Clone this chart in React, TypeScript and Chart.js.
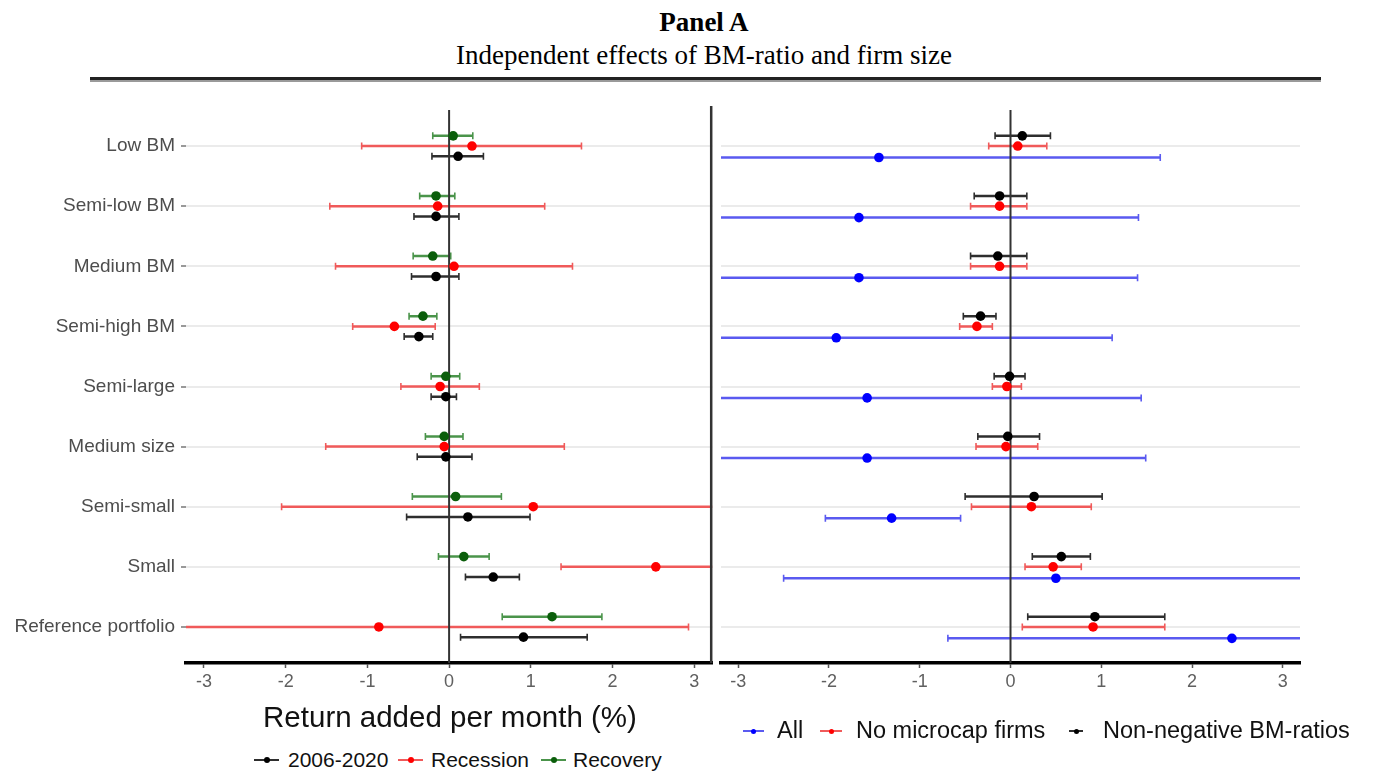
import React, { useEffect, useRef } from 'react';
import { Chart, registerables } from 'chart.js';

Chart.register(...registerables);

// ---------- data ----------
const categories = [
  'Low BM',
  'Semi-low BM',
  'Medium BM',
  'Semi-high BM',
  'Semi-large',
  'Medium size',
  'Semi-small',
  'Small',
  'Reference portfolio',
];
const xTickValues = [-3, -2, -1, 0, 1, 2, 3];

// Left panel: periods
const est2006 = [0.11, -0.16, -0.16, -0.37, -0.04, -0.04, 0.23, 0.54, 0.91];
const lo2006 = [-0.21, -0.43, -0.46, -0.55, -0.22, -0.39, -0.52, 0.2, 0.14];
const hi2006 = [0.42, 0.12, 0.12, -0.2, 0.09, 0.28, 0.99, 0.86, 1.69];

const estRecession = [0.28, -0.14, 0.06, -0.67, -0.11, -0.06, 1.03, 2.53, -0.86];
const loRecession = [-1.07, -1.46, -1.39, -1.18, -0.59, -1.51, -2.05, 1.37, -4.65];
const hiRecession = [1.62, 1.17, 1.51, -0.17, 0.37, 1.41, 4.11, 3.69, 2.93];

const estRecovery = [0.05, -0.16, -0.2, -0.32, -0.04, -0.06, 0.08, 0.18, 1.26];
const loRecovery = [-0.2, -0.36, -0.44, -0.49, -0.22, -0.29, -0.45, -0.13, 0.65];
const hiRecovery = [0.29, 0.07, 0.02, -0.15, 0.13, 0.17, 0.64, 0.49, 1.87];

// Right panel: samples
const estAll = [-1.45, -1.67, -1.67, -1.92, -1.58, -1.58, -1.31, 0.5, 2.44];
const loAll = [-4.55, -4.75, -4.74, -4.96, -4.6, -4.65, -2.04, -2.5, -0.69];
const hiAll = [1.65, 1.41, 1.4, 1.12, 1.44, 1.49, -0.55, 3.5, 5.57];

const estNoMicro = [0.08, -0.12, -0.12, -0.37, -0.04, -0.05, 0.23, 0.47, 0.91];
const loNoMicro = [-0.24, -0.44, -0.44, -0.56, -0.2, -0.38, -0.43, 0.16, 0.13];
const hiNoMicro = [0.4, 0.18, 0.18, -0.2, 0.12, 0.3, 0.89, 0.78, 1.7];

const estNonNeg = [0.13, -0.12, -0.14, -0.33, -0.01, -0.03, 0.26, 0.56, 0.93];
const loNonNeg = [-0.17, -0.4, -0.44, -0.52, -0.18, -0.36, -0.5, 0.24, 0.19];
const hiNonNeg = [0.44, 0.18, 0.18, -0.16, 0.16, 0.32, 1.01, 0.88, 1.7];

// ---------- series config ----------
const leftSeries = [
  { label: '2006-2020', est: est2006, lo: lo2006, hi: hi2006, point: '#000000', line: '#2e2e2e', dodge: 0.17 },
  { label: 'Recession', est: estRecession, lo: loRecession, hi: hiRecession, point: '#ff0000', line: '#f05a5a', dodge: 0 },
  { label: 'Recovery', est: estRecovery, lo: loRecovery, hi: hiRecovery, point: '#0b5e0b', line: '#4a944a', dodge: -0.17 },
];
const rightSeries = [
  { label: 'All', est: estAll, lo: loAll, hi: hiAll, point: '#0000ff', line: '#5a5af0', dodge: 0.19 },
  { label: 'No microcap firms', est: estNoMicro, lo: loNoMicro, hi: hiNoMicro, point: '#ff0000', line: '#f05a5a', dodge: 0 },
  { label: 'Non-negative BM-ratios', est: estNonNeg, lo: loNonNeg, hi: hiNonNeg, point: '#000000', line: '#2e2e2e', dodge: -0.17 },
];

const FONT = "'Liberation Sans', Arial, sans-serif";
const SERIF = "'Liberation Serif', 'Times New Roman', serif";

const errorBarPlugin = {
  id: 'errorBars',
  beforeDatasetsDraw(chart: any) {
    const { ctx, chartArea: a, scales } = chart;
    const xs = scales.x;
    const ys = scales.y;
    ctx.save();
    ctx.beginPath();
    ctx.rect(a.left, a.top, a.right - a.left, a.bottom - a.top);
    ctx.clip();
    chart.data.datasets.forEach((ds: any) => {
      ctx.strokeStyle = ds.errColor;
      ds.data.forEach((p: any, i: number) => {
        const y = ys.getPixelForValue(p.y);
        const x1 = xs.getPixelForValue(ds.errLo[i]);
        const x2 = xs.getPixelForValue(ds.errHi[i]);
        ctx.lineWidth = 2.5;
        ctx.beginPath();
        ctx.moveTo(x1, y);
        ctx.lineTo(x2, y);
        ctx.stroke();
        ctx.lineWidth = 1.6;
        ctx.beginPath();
        ctx.moveTo(x1, y - 3.5);
        ctx.lineTo(x1, y + 3.5);
        ctx.moveTo(x2, y - 3.5);
        ctx.lineTo(x2, y + 3.5);
        ctx.stroke();
      });
    });
    const x0 = xs.getPixelForValue(0);
    ctx.strokeStyle = '#333333';
    ctx.lineWidth = 2;
    ctx.beginPath();
    ctx.moveTo(x0, a.top);
    ctx.lineTo(x0, a.bottom);
    ctx.stroke();
    ctx.restore();
  },
};

const dividerPlugin = {
  id: 'divider',
  afterDraw(chart: any) {
    const { ctx, chartArea: a } = chart;
    ctx.save();
    ctx.strokeStyle = '#333333';
    ctx.lineWidth = 2.5;
    ctx.beginPath();
    ctx.moveTo(a.right - 1, a.top - 4);
    ctx.lineTo(a.right - 1, a.bottom);
    ctx.stroke();
    ctx.restore();
  },
};

function buildDatasets(series: any[]) {
  return series.map((s) => ({
    type: 'scatter',
    label: s.label,
    data: s.est.map((v: number, i: number) => ({ x: v, y: i + 1 + s.dodge })),
    errLo: s.lo,
    errHi: s.hi,
    errColor: s.line,
    backgroundColor: s.point,
    borderColor: s.point,
    borderWidth: 0,
    pointRadius: 4.8,
    pointHoverRadius: 4.8,
  }));
}

function makeOptions(opts: { xMin: number; xMax: number; showY: boolean; yWidth: number; padding: any }) {
  return {
    responsive: false,
    animation: false,
    events: [],
    layout: { padding: opts.padding },
    plugins: { legend: { display: false }, tooltip: { enabled: false }, title: { display: false } },
    scales: {
      x: {
        type: 'linear',
        min: opts.xMin,
        max: opts.xMax,
        afterBuildTicks: (s: any) => {
          s.ticks = xTickValues.map((v) => ({ value: v }));
        },
        afterFit: (s: any) => {
          s.height = 31;
        },
        ticks: {
          color: '#606060',
          font: { size: 18, family: FONT },
          padding: 3,
          maxRotation: 0,
          autoSkip: false,
          callback: (v: any) => String(v),
        },
        grid: { display: true, drawOnChartArea: false, drawTicks: true, tickLength: 5, tickColor: '#555555', tickWidth: 1.5 },
        border: { display: true, color: '#000000', width: 3.5 },
      },
      y: {
        type: 'linear',
        reverse: true,
        min: 0.4,
        max: categories.length + 0.6,
        afterBuildTicks: (s: any) => {
          s.ticks = categories.map((_, i) => ({ value: i + 1 }));
        },
        afterFit: (s: any) => {
          s.width = opts.yWidth;
        },
        ticks: {
          display: opts.showY,
          color: '#4d4d4d',
          font: { size: 19, family: FONT },
          padding: 6,
          autoSkip: false,
          callback: (v: any) => categories[Math.round(v) - 1],
        },
        grid: {
          color: '#ebebeb',
          lineWidth: 2,
          drawTicks: opts.showY,
          tickLength: 5,
          tickColor: '#555555',
          tickWidth: 1.2,
        },
        border: { display: false },
      },
    },
  };
}

function LegendItem({ left, top, keyWidth, textLeft, color, lineColor, label, size, dot }: any) {
  return (
    <>
      <div style={{ position: 'absolute', left, top: top - 1, width: keyWidth, height: 2, background: lineColor }} />
      <div
        style={{
          position: 'absolute',
          left: left + keyWidth / 2 - dot / 2,
          top: top - dot / 2,
          width: dot,
          height: dot,
          borderRadius: '50%',
          background: color,
        }}
      />
      <div
        style={{
          position: 'absolute',
          left: textLeft,
          top,
          transform: 'translateY(-52%)',
          fontFamily: FONT,
          fontSize: size,
          lineHeight: 1,
          color: '#111',
          whiteSpace: 'nowrap',
        }}
      >
        {label}
      </div>
    </>
  );
}

export default function App() {
  const leftRef = useRef<HTMLCanvasElement>(null);
  const rightRef = useRef<HTMLCanvasElement>(null);

  useEffect(() => {
    Chart.defaults.font.family = FONT;
    const left = new Chart(leftRef.current as HTMLCanvasElement, {
      type: 'scatter',
      data: { datasets: buildDatasets(leftSeries) as any },
      options: makeOptions({
        xMin: -3.22,
        xMax: 3.22,
        showY: true,
        yWidth: 186,
        padding: { top: 110, right: 2, bottom: 9, left: 0 },
      }) as any,
      plugins: [errorBarPlugin, dividerPlugin],
    });
    const right = new Chart(rightRef.current as HTMLCanvasElement, {
      type: 'scatter',
      data: { datasets: buildDatasets(rightSeries) as any },
      options: makeOptions({
        xMin: -3.19,
        xMax: 3.19,
        showY: false,
        yWidth: 21,
        padding: { top: 110, right: 74, bottom: 9, left: 0 },
      }) as any,
      plugins: [errorBarPlugin],
    });
    return () => {
      left.destroy();
      right.destroy();
    };
  }, []);

  const leftLegendPos = [
    { left: 254, textLeft: 288 },
    { left: 398, textLeft: 431 },
    { left: 541, textLeft: 573 },
  ];
  const rightLegendPos = [
    { left: 743, w: 21, textLeft: 777 },
    { left: 820, w: 22, textLeft: 856 },
    { left: 1069, w: 14, textLeft: 1103 },
  ];

  return (
    <div style={{ position: 'absolute', left: 0, top: 0, width: 1374, height: 775, background: '#ffffff', overflow: 'hidden' }}>
      <div
        style={{
          position: 'absolute',
          left: 704,
          top: 22,
          transform: 'translate(-50%, -50%)',
          fontFamily: SERIF,
          fontWeight: 'bold',
          fontSize: 27,
          lineHeight: 1,
          color: '#000',
          whiteSpace: 'nowrap',
        }}
      >
        Panel A
      </div>
      <div
        style={{
          position: 'absolute',
          left: 704,
          top: 55,
          transform: 'translate(-50%, -50%)',
          fontFamily: SERIF,
          fontSize: 27,
          lineHeight: 1,
          color: '#000',
          whiteSpace: 'nowrap',
        }}
      >
        Independent effects of BM-ratio and firm size
      </div>
      <div style={{ position: 'absolute', left: 90, top: 77, width: 1231, height: 3, background: '#222' }} />
      <div style={{ position: 'absolute', left: 90, top: 80, width: 1231, height: 2, background: '#9a9a9a' }} />

      <canvas ref={leftRef} width={717} height={703} style={{ position: 'absolute', left: 0, top: 0, width: 717, height: 703 }} />
      <canvas ref={rightRef} width={674} height={703} style={{ position: 'absolute', left: 700, top: 0, width: 674, height: 703 }} />

      <div
        style={{
          position: 'absolute',
          left: 450,
          top: 717,
          transform: 'translate(-50%, -50%)',
          fontFamily: FONT,
          fontSize: 29.5,
          lineHeight: 1,
          color: '#111',
          whiteSpace: 'nowrap',
        }}
      >
        Return added per month (%)
      </div>

      {leftSeries.map((s, i) => (
        <LegendItem
          key={s.label}
          left={leftLegendPos[i].left}
          top={760}
          keyWidth={25}
          textLeft={leftLegendPos[i].textLeft}
          color={s.point}
          lineColor={s.line}
          label={s.label}
          size={21}
          dot={6}
        />
      ))}
      {rightSeries.map((s, i) => (
        <LegendItem
          key={s.label}
          left={rightLegendPos[i].left}
          top={731}
          keyWidth={rightLegendPos[i].w}
          textLeft={rightLegendPos[i].textLeft}
          color={s.point}
          lineColor={s.line}
          label={s.label}
          size={23.5}
          dot={5}
        />
      ))}
    </div>
  );
}
